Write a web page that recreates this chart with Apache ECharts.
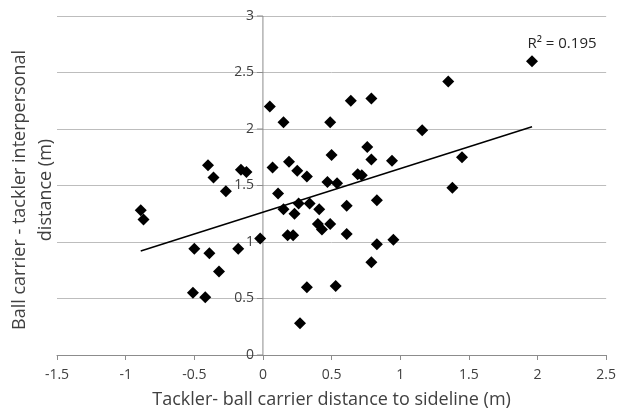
<!DOCTYPE html>
<html>
<head>
<meta charset="utf-8">
<script src="https://cdn.jsdelivr.net/npm/echarts@6/dist/echarts.min.js"></script>
<style>
    html, body { margin: 0; padding: 0; background: #fff; }
    #chart { width: 619px; height: 414px; }
</style>
</head>
<body>
<div id="chart"></div>
<script type="text/javascript">
    // points: [sideline distance, interpersonal distance]
    var points = [
        [-0.89, 1.28], [-0.87, 1.20], [-0.50, 0.94], [-0.51, 0.55], [-0.42, 0.51],
        [-0.39, 0.90], [-0.40, 1.68], [-0.36, 1.57], [-0.32, 0.74], [-0.27, 1.45],
        [-0.18, 0.94], [-0.16, 1.64], [-0.12, 1.62], [-0.02, 1.03], [0.05, 2.20],
        [0.07, 1.66], [0.11, 1.43], [0.15, 2.06], [0.15, 1.29], [0.18, 1.06],
        [0.22, 1.06], [0.19, 1.71], [0.23, 1.25], [0.25, 1.63], [0.26, 1.34],
        [0.27, 0.28], [0.32, 1.58], [0.32, 0.60], [0.34, 1.34], [0.41, 1.29],
        [0.40, 1.16], [0.43, 1.11], [0.47, 1.53], [0.49, 2.06], [0.49, 1.16],
        [0.50, 1.77], [0.53, 0.61], [0.54, 1.52], [0.61, 1.32], [0.61, 1.07],
        [0.64, 2.25], [0.69, 1.60], [0.72, 1.59], [0.76, 1.84], [0.79, 2.27],
        [0.79, 1.73], [0.79, 0.82], [0.83, 1.37], [0.83, 0.98], [0.94, 1.72],
        [0.95, 1.02], [1.16, 1.99], [1.35, 2.42], [1.38, 1.48], [1.45, 1.75],
        [1.96, 2.60]
    ];
    // linear trend line ends
    var trendX = [-0.89, 1.96];
    var trendY = [0.92, 2.02];
    var yTicks = [0, 0.5, 1, 1.5, 2, 2.5, 3];
    var r2Text = 'R² = 0.195';
    var xTitle = 'Tackler- ball carrier distance to sideline (m)';
    var yTitle = ['Ball carrier - tackler interpersonal', 'distance (m)'];

    var fontName = '"Open Sans", sans-serif';
    var trend = [];
    for (var i = 0; i < trendX.length; i++) {
        trend.push([trendX[i], trendY[i]]);
    }

    var myChart = echarts.init(document.getElementById('chart'));
    var option = {
        animation: false,
        textStyle: { fontFamily: fontName },
        grid: { left: 57, right: 11, top: 16, bottom: 59 },
        xAxis: {
            type: 'value',
            min: -1.5, max: 2.5, interval: 0.5,
            name: xTitle,
            nameLocation: 'middle',
            nameGap: 36,
            nameTextStyle: { fontSize: 18, color: '#404040', fontFamily: fontName },
            axisLine: { onZero: false, lineStyle: { color: '#8c8c8c', width: 1 } },
            axisTick: { show: true, length: 5, lineStyle: { color: '#8c8c8c' } },
            axisLabel: { fontSize: 14, color: '#404040', margin: 13 },
            splitLine: { show: false }
        },
        yAxis: {
            type: 'value',
            min: 0, max: 3, interval: 0.5,
            axisLine: { show: false },
            axisTick: { show: false },
            axisLabel: { show: false },
            splitLine: { show: true, lineStyle: { color: '#bdbdbd', width: 1 } }
        },
        series: [
            {
                type: 'scatter',
                data: points,
                symbol: 'diamond',
                symbolSize: 12,
                itemStyle: { color: '#000', opacity: 1 },
                z: 3
            },
            {
                type: 'line',
                data: trend,
                showSymbol: false,
                symbol: 'none',
                lineStyle: { color: '#000', width: 1.5 },
                z: 4
            }
        ]
    };
    myChart.setOption(option, true);

    // y axis crosses at x = 0, with its ticks and labels beside it
    var graphics = [];
    var axisTop = myChart.convertToPixel({ xAxisIndex: 0, yAxisIndex: 0 }, [0, yTicks[yTicks.length - 1]]);
    var axisBottom = myChart.convertToPixel({ xAxisIndex: 0, yAxisIndex: 0 }, [0, yTicks[0]]);
    graphics.push({
        type: 'line', z: 2,
        shape: { x1: axisTop[0], y1: axisTop[1], x2: axisBottom[0], y2: axisBottom[1] },
        style: { stroke: '#8c8c8c', lineWidth: 1 }
    });
    for (var k = 0; k < yTicks.length; k++) {
        var p = myChart.convertToPixel({ xAxisIndex: 0, yAxisIndex: 0 }, [0, yTicks[k]]);
        graphics.push({
            type: 'line', z: 2,
            shape: { x1: p[0] - 6, y1: p[1], x2: p[0], y2: p[1] },
            style: { stroke: '#8c8c8c', lineWidth: 1 }
        });
        graphics.push({
            type: 'text', z: 2, x: p[0] - 9, y: p[1],
            style: { text: String(yTicks[k]), font: '14px ' + fontName, fill: '#404040',
                textAlign: 'right', textVerticalAlign: 'middle' }
        });
    }
    graphics.push({
        type: 'text', rotation: Math.PI / 2, x: 20, y: 190,
        style: { text: yTitle[0], font: '18px ' + fontName, fill: '#404040',
            textAlign: 'center', textVerticalAlign: 'middle' }
    });
    graphics.push({
        type: 'text', rotation: Math.PI / 2, x: 46, y: 190,
        style: { text: yTitle[1], font: '18px ' + fontName, fill: '#404040',
            textAlign: 'center', textVerticalAlign: 'middle' }
    });
    graphics.push({
        type: 'text', x: 562, y: 44,
        style: { text: r2Text, font: '15px ' + fontName, fill: '#262626',
            textAlign: 'center', textVerticalAlign: 'middle' }
    });
    myChart.setOption({ graphic: graphics });
</script>
</body>
</html>
